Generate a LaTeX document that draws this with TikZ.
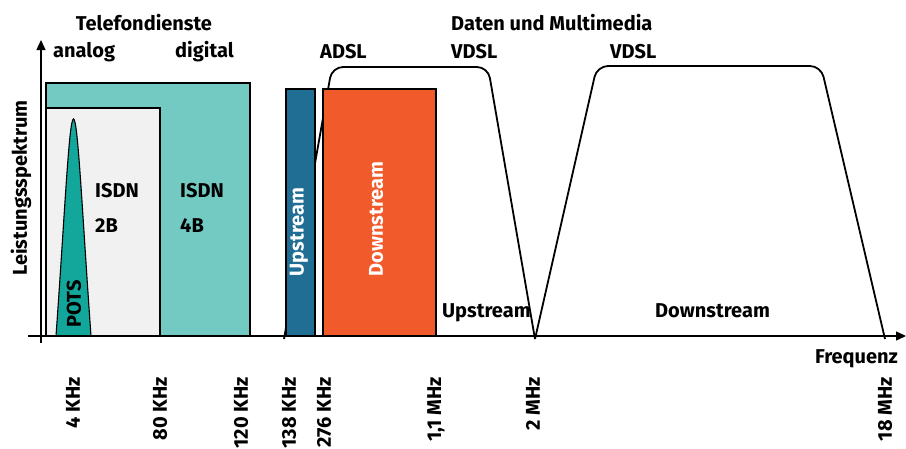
\documentclass[tikz,border=0pt]{standalone}
\usepackage{fontspec}
\setmainfont{Fira Sans}
\usetikzlibrary{arrows.meta}
\definecolor{isdnfour}{HTML}{72CAC3}
\definecolor{isdntwo}{HTML}{F1F1F1}
\definecolor{potsfill}{HTML}{12A79A}
\definecolor{upfill}{HTML}{206E94}
\definecolor{downfill}{HTML}{F15A2B}
\tikzset{
  lbl/.style={font=\fontsize{20}{22}\selectfont\bfseries, inner sep=0pt},
  tick/.style={lbl, rotate=90, anchor=east},
  band/.style={draw=black, line width=1.6pt},
  envelope/.style={draw=black, line width=1.8pt, rounded corners=11pt},
  axis/.style={draw=black, line width=1.4pt}
}
\begin{document}
\begin{tikzpicture}[x=1pt, y=-1pt]
\useasboundingbox (0,0) rectangle (906,448);

% VDSL envelopes (behind the ADSL bands)
\draw[envelope] (284,339) -- (332,67) -- (488,67) -- (535,339);
\draw[envelope] (535,339) -- (597,66) -- (821,66) -- (885,339);

% telephone services
\draw[band, line width=1.3pt, fill=isdnfour] (46,83) rectangle (250,336);
\draw[band, line width=1.3pt, fill=isdntwo] (46,108) rectangle (160,336);
\draw[line width=1.1pt, fill=potsfill] (56,336) .. controls (65,210) and (69,119) .. (73.5,119)
  .. controls (78,119) and (82,210) .. (91,336) -- cycle;

% ADSL bands
\draw[band, fill=upfill] (286,89) rectangle (315,336);
\draw[band, fill=downfill] (323,89) rectangle (436,336);

% axes
\coordinate (yfoot) at (41,343);
\coordinate (ytip) at (41,40);
\coordinate (xfoot) at (28,336);
\coordinate (xtip) at (906,336);
\draw[axis, -{Triangle[length=10pt, width=9pt]}] (yfoot) -- (ytip);
\draw[axis, -{Triangle[length=10pt, width=9pt]}] (xfoot) -- (xtip);

% headings
\node[lbl, anchor=base] (tel) at (144,30) {Telefondienste};
\node[lbl, anchor=base west] (analog) at (53,57) {analog};
\node[lbl, anchor=base west] (digital) at (175,57) {digital};
\node[lbl, anchor=base west] (daten) at (451,30) {Daten und Multimedia};
\node[lbl, anchor=base west] (adsl) at (320,58) {ADSL};
\node[lbl, anchor=base west] (vdsla) at (451,58) {VDSL};
\node[lbl, anchor=base west] (vdslb) at (610,58) {VDSL};

% band labels
\node[lbl, anchor=base west] (isdna) at (95,197) {ISDN};
\node[lbl, anchor=base west] (twob) at (95,232) {2B};
\node[lbl, anchor=base west] (isdnb) at (180,197) {ISDN};
\node[lbl, anchor=base west] (fourb) at (180,232) {4B};
\node[lbl, rotate=90] (pots) at (74,304) {POTS};
\node[lbl, rotate=90, text=white] (up) at (299,232) {Upstream};
\node[lbl, rotate=90, text=white] (down) at (376,219) {Downstream};
\node[lbl, anchor=base west] (vup) at (442,317) {Upstream};
\node[lbl, anchor=base west] (vdown) at (655,317) {Downstream};

% axis titles
\node[lbl, rotate=90, anchor=base] (ylab) at (27,188) {Leistungsspektrum};
\node[lbl, anchor=base west] (xlab) at (815,363) {Frequenz};

% frequency marks
\node[tick] (f1) at (73,377) {4 KHz};
\node[tick] (f2) at (160,377) {80 KHz};
\node[tick] (f3) at (241,377) {120 KHz};
\node[tick] (f4) at (289,377) {138 KHz};
\node[tick] (f5) at (324,377) {276 KHz};
\node[tick] (f6) at (436,377) {1,1 MHz};
\node[tick] (f7) at (533,377) {2 MHz};
\node[tick] (f8) at (885,377) {18 MHz};
\end{tikzpicture}
\end{document}
